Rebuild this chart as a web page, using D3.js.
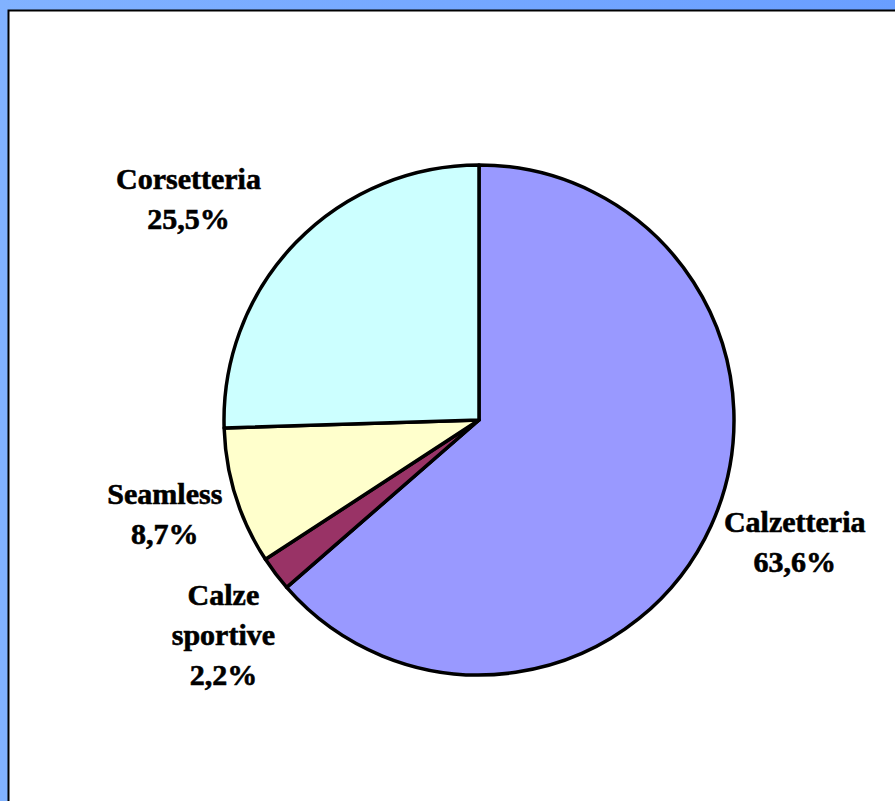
<!DOCTYPE html>
<html>
<head>
<meta charset="utf-8">
<script src="https://cdn.jsdelivr.net/npm/d3@7"></script>
<style>
  html, body { margin: 0; padding: 0; background: #fff; }
  svg { display: block; }
</style>
</head>
<body>
<script>
// Product mix (share of value, %)
const categories = ["Calzetteria", "Calze sportive", "Seamless", "Corsetteria"];
const shares = [63.6, 2.2, 8.7, 25.5];
const shareLabels = ["63,6%", "2,2%", "8,7%", "25,5%"];
const labelLines = [["Calzetteria"], ["Calze", "sportive"], ["Seamless"], ["Corsetteria"]];
const sliceColors = ["#9999FF", "#993366", "#FFFFCC", "#CCFFFF"];
// small hand adjustments of the label blocks (px)
const labelNudge = [[1, -8], [5, 13], [3, 0], [-41, -2]];

const W = 895, H = 801;
const cx = 479, cy = 420, radius = 255;
const fontSize = 30, lineGap = 40;

const svg = d3.select("body").append("svg")
  .attr("width", W).attr("height", H);

// frame background
const defs = svg.append("defs");
const grad = defs.append("linearGradient").attr("id", "frameGrad")
  .attr("x1", "0").attr("y1", "0").attr("x2", "1").attr("y2", "0");
grad.append("stop").attr("offset", "0").attr("stop-color", "#81B2FF");
grad.append("stop").attr("offset", "1").attr("stop-color", "#699EFF");
svg.append("rect").attr("width", W).attr("height", H).attr("fill", "url(#frameGrad)");
svg.append("rect").attr("x", 8.5).attr("y", 10.5).attr("width", W).attr("height", H)
  .attr("fill", "#fff").attr("stroke", "#000").attr("stroke-width", 2);

const data = categories.map((c, i) => ({
  name: c, value: shares[i], label: shareLabels[i], lines: labelLines[i],
  color: sliceColors[i], nudge: labelNudge[i]
}));

const pie = d3.pie().sort(null).value(d => d.value);
const arc = d3.arc().innerRadius(0).outerRadius(radius);
const arcs = pie(data);

const g = svg.append("g").attr("transform", `translate(${cx},${cy})`);
g.selectAll("path.slice").data(arcs).join("path")
  .attr("class", "slice")
  .attr("d", arc)
  .attr("fill", d => d.data.color)
  .attr("stroke", "#000")
  .attr("stroke-width", 3.5)
  .attr("stroke-linejoin", "round");

// outside labels: anchored beyond the rim along each slice's mid-angle
const labelR = radius + 20;
arcs.forEach(a => {
  const lines = a.data.lines.concat([a.data.label]);
  const mid = (a.startAngle + a.endAngle) / 2;
  const s = Math.sin(mid), c = Math.cos(mid);
  const t = g.append("text")
    .attr("font-family", "'Liberation Serif', 'Times New Roman', serif")
    .attr("font-weight", "bold")
    .attr("font-size", fontSize)
    .attr("text-anchor", "middle")
    .attr("fill", "#000")
    .attr("stroke", "#000")
    .attr("stroke-width", 0.6);
  lines.forEach((ln, i) => t.append("tspan").attr("x", 0)
    .attr("y", (i - (lines.length - 1) / 2) * lineGap + fontSize * 0.33).text(ln));
  const bb = t.node().getBBox();
  const w = bb.width, h = lines.length * 40;
  const x = labelR * s + s * w / 2 + a.data.nudge[0];
  const y = -labelR * c - c * h / 2 + a.data.nudge[1];
  t.attr("transform", `translate(${x},${y})`);
});
</script>
</body>
</html>
